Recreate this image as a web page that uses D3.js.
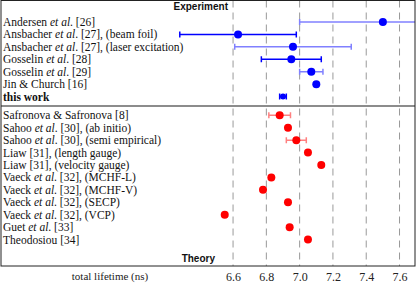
<!DOCTYPE html>
<html>
<head>
<meta charset="utf-8">
<script src="https://cdn.jsdelivr.net/npm/d3@7"></script>
<style>
  body { margin: 0; background: #fff; }
  svg { display: block; }
</style>
</head>
<body>
<svg id="chart"></svg>
<script>
// Experiment rows
const expLabels = [
  'Andersen et al. [26]',
  'Ansbacher et al. [27], (beam foil)',
  'Ansbacher et al. [27], (laser excitation)',
  'Gosselin et al. [28]',
  'Gosselin et al. [29]',
  'Jin & Church [16]',
  'this work'
];
const expValues = [7.50, 6.63, 6.96, 6.95, 7.07, 7.10, 6.90];
const expErrors = [0.50, 0.35, 0.35, 0.18, 0.07, 0.01, 0.02];

// Theory rows
const theoryLabels = [
  'Safronova & Safronova [8]',
  'Sahoo et al. [30], (ab initio)',
  'Sahoo et al. [30], (semi empirical)',
  'Liaw [31], (length gauge)',
  'Liaw [31], (velocity gauge)',
  'Vaeck et al. [32], (MCHF-L)',
  'Vaeck et al. [32], (MCHF-V)',
  'Vaeck et al. [32], (SECP)',
  'Vaeck et al. [32], (VCP)',
  'Guet et al. [33]',
  'Theodosiou [34]'
];
const theoryValues = [6.88, 6.93, 6.98, 7.05, 7.13, 6.83, 6.78, 6.93, 6.55, 6.94, 7.05];
const theoryErrors = [0.065, null, 0.06, null, null, null, null, null, null, null, null];

const xTicks = [6.6, 6.8, 7.0, 7.2, 7.4, 7.6];
const xDomain = [5.206, 7.693];

const serif = '"Liberation Serif", "Times New Roman", Times, "DejaVu Serif", serif';
const sans = '"Liberation Sans", Arial, Helvetica, sans-serif';

const width = 416, height = 285;
const frame = {left: 1, right: 415, top: 0.5, bottom: 266};

const svg = d3.select('#chart').attr('width', width).attr('height', height);

const x = d3.scaleLinear().domain(xDomain).range([frame.left, frame.right]);
// row index: experiment 0..6, theory 7.5..17.5
const y = d3.scaleLinear().domain([0, 17.5]).range([22, 239.6]);

const rows = [];
expLabels.forEach((lab, i) => rows.push({
  label: lab, value: expValues[i], err: expErrors[i], pos: i, group: 'exp',
  faded: i % 2 === 0 && lab !== 'this work', highlight: lab === 'this work'
}));
theoryLabels.forEach((lab, i) => rows.push({
  label: lab, value: theoryValues[i], err: theoryErrors[i], pos: 7.5 + i, group: 'theory',
  faded: i % 2 === 0, highlight: false
}));

svg.append('clipPath').attr('id', 'clip')
  .append('rect')
    .attr('x', frame.left).attr('y', frame.top)
    .attr('width', frame.right - frame.left).attr('height', frame.bottom - frame.top);

// dashed grid
svg.append('g').selectAll('line')
  .data(xTicks)
  .join('line')
    .attr('x1', d => x(d)).attr('x2', d => x(d))
    .attr('y1', frame.top).attr('y2', frame.bottom)
    .attr('stroke', '#999').attr('stroke-width', 1)
    .attr('stroke-dasharray', '7,5');

// divider between experiment and theory
svg.append('line')
  .attr('x1', frame.left).attr('x2', frame.right)
  .attr('y1', (y(6) + y(7.5)) / 2).attr('y2', (y(6) + y(7.5)) / 2)
  .attr('stroke', '#666').attr('stroke-width', 1.5);

// row labels, "et al" in italics
const labels = svg.append('g').selectAll('text')
  .data(rows)
  .join('text')
    .attr('x', 3)
    .attr('y', d => y(d.pos) + 4)
    .attr('font-family', serif)
    .attr('font-size', 11.5)
    .attr('fill', '#111')
    .attr('font-weight', d => d.highlight ? 'bold' : null);

labels.each(function(d) {
  const t = d3.select(this);
  const parts = d.label.split('et al');
  parts.forEach((p, k) => {
    if (k > 0) t.append('tspan').attr('font-style', 'italic').text('et al');
    t.append('tspan').text(p);
  });
});

// error bars + points
const marks = svg.append('g').attr('clip-path', 'url(#clip)');
const colorOf = d => d.group === 'exp' ? '#0000ff' : '#ff0000';
const fadedOf = d => d.group === 'exp' ? '#8080ff' : '#ff8080';
const cap = 3;

const withErr = rows.filter(d => d.err);
const eb = marks.selectAll('g.eb')
  .data(withErr)
  .join('g')
    .attr('class', 'eb')
    .attr('stroke', d => d.faded ? fadedOf(d) : colorOf(d))
    .attr('stroke-width', 1.5);

eb.append('line')
  .attr('x1', d => x(d.value - d.err)).attr('x2', d => x(d.value + d.err))
  .attr('y1', d => y(d.pos)).attr('y2', d => y(d.pos));
eb.append('line')
  .attr('x1', d => x(d.value - d.err)).attr('x2', d => x(d.value - d.err))
  .attr('y1', d => y(d.pos) - cap).attr('y2', d => y(d.pos) + cap);
eb.append('line')
  .attr('x1', d => x(d.value + d.err)).attr('x2', d => x(d.value + d.err))
  .attr('y1', d => y(d.pos) - cap).attr('y2', d => y(d.pos) + cap);

marks.selectAll('circle')
  .data(rows)
  .join('circle')
    .attr('cx', d => x(d.value))
    .attr('cy', d => y(d.pos))
    .attr('r', d => d.highlight ? 3 : 4)
    .attr('fill', colorOf);

// group titles
svg.append('text')
  .attr('x', 228).attr('y', 9.5).attr('text-anchor', 'end')
  .attr('font-family', sans).attr('font-size', 10).attr('font-weight', 'bold').attr('fill', '#111')
  .text('Experiment');
svg.append('text')
  .attr('x', 215).attr('y', 262).attr('text-anchor', 'end')
  .attr('font-family', sans).attr('font-size', 10).attr('font-weight', 'bold').attr('fill', '#111')
  .text('Theory');

// frame
svg.append('rect')
  .attr('x', frame.left).attr('y', frame.top)
  .attr('width', frame.right - frame.left).attr('height', frame.bottom - frame.top)
  .attr('fill', 'none').attr('stroke', '#222').attr('stroke-width', 1);

// x axis
const xAxis = d3.axisBottom(x).tickValues(xTicks).tickSize(0).tickPadding(6)
  .tickFormat(d3.format('.1f'));
svg.append('g')
  .attr('transform', `translate(0,${frame.bottom})`)
  .call(xAxis)
  .call(g => g.select('.domain').remove())
  .call(g => g.attr('font-family', serif).attr('font-size', 12))
  .call(g => g.selectAll('text').attr('fill', '#222'));

svg.append('text')
  .attr('x', 110).attr('y', 280)
  .attr('text-anchor', 'middle')
  .attr('font-family', serif).attr('font-size', 11).attr('fill', '#222')
  .text('total lifetime (ns)');
</script>
</body>
</html>
